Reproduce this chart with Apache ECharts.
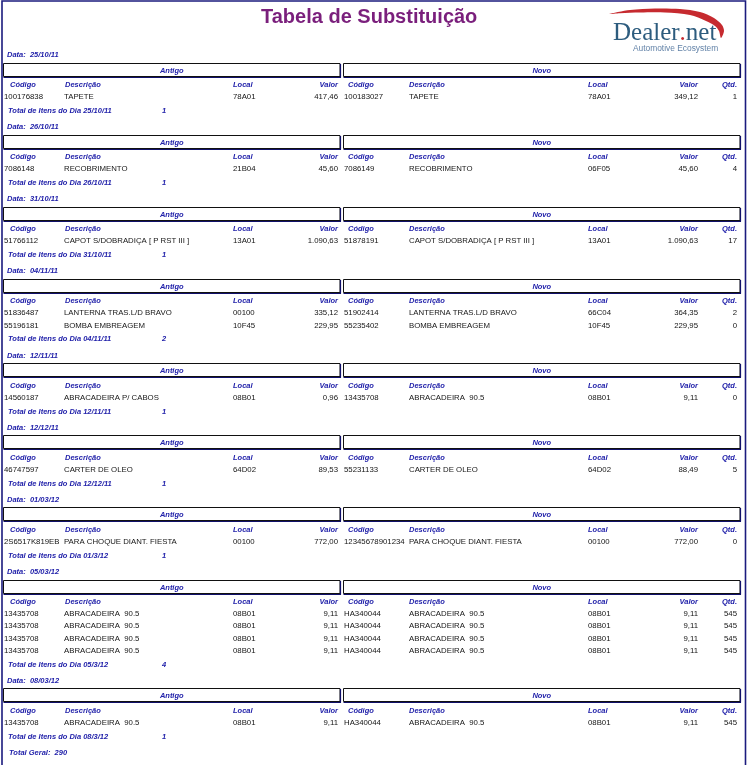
<!DOCTYPE html>
<html><head><meta charset="utf-8">
<script src="https://cdn.jsdelivr.net/npm/echarts@6/dist/echarts.min.js"></script>
<style>html,body{margin:0;padding:0;background:#fff}#c{width:750px;height:765px}</style>
</head><body><div id="c"></div>
<script>
// ---------- DATA ----------
const reportTitle = 'Tabela de Substituição';
const groupTitles = ['Antigo', 'Novo'];
const columnHeaders = ['Código', 'Descrição', 'Local', 'Valor', 'Código', 'Descrição', 'Local', 'Valor', 'Qtd.'];
const dates = ['25/10/11', '26/10/11', '31/10/11', '04/11/11', '12/11/11', '12/12/11', '01/03/12', '05/03/12', '08/03/12'];
const totalDateLabels = ['25/10/11', '26/10/11', '31/10/11', '04/11/11', '12/11/11', '12/12/11', '01/3/12', '05/3/12', '08/3/12'];
const dayTotals = [1, 1, 1, 2, 1, 1, 1, 4, 1];
const itemDay = [0, 1, 2, 3, 3, 4, 5, 6, 7, 7, 7, 7, 8];
const oldCodes = ['100176838', '7086148', '51766112', '51836487', '55196181', '14560187', '46747597', '2S6517K819EB', '13435708', '13435708', '13435708', '13435708', '13435708'];
const oldDescs = ['TAPETE', 'RECOBRIMENTO', 'CAPOT S/DOBRADIÇA [ P RST III ]', 'LANTERNA TRAS.L/D BRAVO', 'BOMBA EMBREAGEM', 'ABRACADEIRA P/ CABOS', 'CARTER DE OLEO', 'PARA CHOQUE DIANT. FIESTA', 'ABRACADEIRA  90.5', 'ABRACADEIRA  90.5', 'ABRACADEIRA  90.5', 'ABRACADEIRA  90.5', 'ABRACADEIRA  90.5'];
const oldLocals = ['78A01', '21B04', '13A01', '00100', '10F45', '08B01', '64D02', '00100', '08B01', '08B01', '08B01', '08B01', '08B01'];
const oldValues = [417.46, 45.60, 1090.63, 335.12, 229.95, 0.96, 89.53, 772.00, 9.11, 9.11, 9.11, 9.11, 9.11];
const newCodes = ['100183027', '7086149', '51878191', '51902414', '55235402', '13435708', '55231133', '12345678901234', 'HA340044', 'HA340044', 'HA340044', 'HA340044', 'HA340044'];
const newDescs = ['TAPETE', 'RECOBRIMENTO', 'CAPOT S/DOBRADIÇA [ P RST III ]', 'LANTERNA TRAS.L/D BRAVO', 'BOMBA EMBREAGEM', 'ABRACADEIRA  90.5', 'CARTER DE OLEO', 'PARA CHOQUE DIANT. FIESTA', 'ABRACADEIRA  90.5', 'ABRACADEIRA  90.5', 'ABRACADEIRA  90.5', 'ABRACADEIRA  90.5', 'ABRACADEIRA  90.5'];
const newLocals = ['78A01', '06F05', '13A01', '66C04', '10F45', '08B01', '64D02', '00100', '08B01', '08B01', '08B01', '08B01', '08B01'];
const newValues = [349.12, 45.60, 1090.63, 364.35, 229.95, 9.11, 88.49, 772.00, 9.11, 9.11, 9.11, 9.11, 9.11];
const qtys = [1, 4, 17, 2, 0, 0, 5, 0, 545, 545, 545, 545, 545];
const grandTotal = 290;

// ---------- LAYOUT / STYLE ----------
const L = { firstY: 55, headOff: 30, rowOff: 42, rowStep: 12.3, totalOff: 13.8, nextOff: 16.3, boxTop: 7.5, boxH: 13, grandOff: 16 };
const colHeadX = [10, 65, 233, 338, 348, 409, 588, 698, 737];
const colDataX = [4, 64, 233, 338, 344, 409, 588, 698, 737];
const colAlign = ['left', 'left', 'left', 'right', 'left', 'left', 'left', 'right', 'right'];
const boxesX = [[3.5, 340], [343.5, 740]];
const BLUE = '#2222aa';
const INK = '#151515';
const FONT_H = 'italic bold 7.5px "Liberation Sans", Arial, sans-serif';
const FONT_D = '7.8px "Liberation Sans", Arial, sans-serif';

function fmt(n) {
  const s = n.toFixed(2).split('.');
  return s[0].replace(/\B(?=(\d{3})+(?!\d))/g, '.') + ',' + s[1];
}

const rows = [];
let y = L.firstY, lastTotal = 0;
dates.forEach((d, di) => {
  rows.push({ kind: 'date', y, di });
  rows.push({ kind: 'box', y: y + L.boxTop, di });
  rows.push({ kind: 'head', y: y + L.headOff, di });
  const items = itemDay.map((v, i) => v === di ? i : -1).filter(i => i >= 0);
  const ry = y + L.rowOff;
  items.forEach((ii, k) => rows.push({ kind: 'item', y: ry + k * L.rowStep, ii }));
  const ty = ry + (items.length - 1) * L.rowStep + L.totalOff;
  rows.push({ kind: 'total', y: ty, di });
  lastTotal = ty;
  y = ty + L.nextOff;
});
rows.push({ kind: 'grand', y: lastTotal + L.grandOff });

function txt(x, y, s, font, fill, align, extra) {
  const st = { text: s, font, fill, align: align || 'left', textAlign: align || 'left', verticalAlign: 'middle', textVerticalAlign: 'middle' };
  if (extra) Object.assign(st, extra);
  return { type: 'text', x, y, silent: true, style: st };
}

function renderItem(params, api) {
  const r = rows[params.dataIndex];
  const X = v => api.coord([v, 0])[0];
  const Y = v => api.coord([0, v])[1];
  const yy = Y(api.value(1));
  const ch = [];
  if (r.kind === 'date') {
    ch.push(txt(X(7), yy, 'Data:  ' + dates[r.di], FONT_H, BLUE));
  } else if (r.kind === 'box') {
    const yb = Y(r.y + L.boxH);
    boxesX.forEach((b, k) => {
      const x1 = X(b[0]), x2 = X(b[1]);
      const t = Math.round(yy) + 0.5, bt = Math.round(yb) + 0.5;
      ch.push({ type: 'rect', silent: true, shape: { x: x1, y: t, width: x2 - x1, height: bt - t }, style: { fill: '#fff', stroke: '#111', lineWidth: 1 } });
      ch.push({ type: 'line', silent: true, shape: { x1: x2 + 0.5, y1: t + 0.5, x2: x2 + 0.5, y2: bt + 1 }, style: { stroke: '#10106a', lineWidth: 1.2 } });
      ch.push({ type: 'line', silent: true, shape: { x1: x1, y1: bt + 1, x2: x2 + 1, y2: bt + 1 }, style: { stroke: '#10106a', lineWidth: 1.2 } });
      ch.push(txt((x1 + x2) / 2, (t + bt) / 2 + 0.5, groupTitles[k], FONT_H, BLUE, 'center'));
    });
  } else if (r.kind === 'head') {
    columnHeaders.forEach((h, c) => ch.push(txt(X(colHeadX[c]), yy, h, FONT_H, BLUE, colAlign[c])));
  } else if (r.kind === 'item') {
    const i = r.ii;
    const vals = [oldCodes[i], oldDescs[i], oldLocals[i], fmt(oldValues[i]), newCodes[i], newDescs[i], newLocals[i], fmt(newValues[i]), String(qtys[i])];
    vals.forEach((v, c) => ch.push(txt(X(colDataX[c]), yy, v, FONT_D, INK, colAlign[c])));
  } else if (r.kind === 'total') {
    ch.push(txt(X(8), yy, 'Total de Itens do Dia ' + totalDateLabels[r.di], FONT_H, BLUE));
    ch.push(txt(X(162), yy, String(dayTotals[r.di]), FONT_H, BLUE));
  } else if (r.kind === 'grand') {
    ch.push(txt(X(9), yy, 'Total Geral:  ' + grandTotal, FONT_H, BLUE));
  }
  return { type: 'group', children: ch };
}

const chart = echarts.init(document.getElementById('c'), null, { renderer: 'canvas' });
chart.setOption({
  animation: false,
  backgroundColor: '#fff',
  title: {
    text: reportTitle, left: 261, top: 7, padding: 0,
    textStyle: { color: '#7a1f7c', fontSize: 20, fontWeight: 'bold', fontFamily: '"Liberation Sans", Arial, sans-serif' }
  },
  grid: { left: 0, right: 0, top: 0, bottom: 0 },
  xAxis: { type: 'value', min: 0, max: 750, show: false },
  yAxis: { type: 'value', min: 0, max: 765, inverse: true, show: false },
  series: [{
    type: 'custom',
    renderItem,
    clip: false,
    encode: { x: 0, y: 1 },
    data: rows.map(r => [0, r.y])
  }],
  graphic: [
    { type: 'rect', silent: true, shape: { x: 2, y: 1, width: 743.5, height: 800 }, style: { fill: null, stroke: '#1b1b7e', lineWidth: 1.6 } },
    { type: 'polygon', silent: true, shape: { smooth: 0.3, points: [[609, 14], [630, 10], [655, 8.5], [680, 9], [700, 12], [714, 18], [722, 25], [724, 31], [721, 38], [719, 31], [715, 26], [706, 21], [690, 15], [665, 12.5], [640, 12.5], [620, 13.2]] }, style: { fill: '#c62a2f' } },
    { type: 'text', silent: true, x: 613, y: 33.5, style: {
        text: '{a|Dealer}{b|.}{a|net}', verticalAlign: 'middle', textVerticalAlign: 'middle',
        rich: {
          a: { fill: '#2d5c7e', color: '#2d5c7e', fontSize: 25, fontFamily: '"Liberation Serif", "Times New Roman", serif' },
          b: { fill: '#c62a2f', color: '#c62a2f', fontSize: 25, fontFamily: '"Liberation Serif", "Times New Roman", serif' }
        }
      } },
    { type: 'text', silent: true, x: 633, y: 48.5, style: { text: 'Automotive Ecosystem', fill: '#6383a8', font: '8.4px "Liberation Sans", Arial, sans-serif', verticalAlign: 'middle', textVerticalAlign: 'middle' } }
  ]
});
</script>
</body></html>
